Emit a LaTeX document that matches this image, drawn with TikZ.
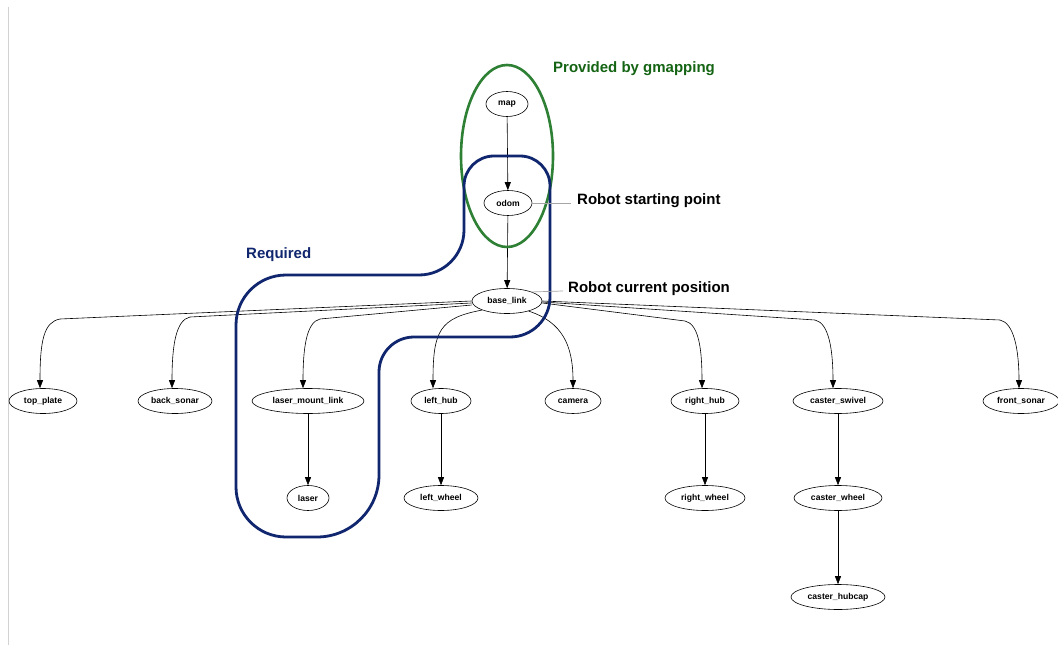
\documentclass[tikz,border=0pt]{standalone}
\usepackage{fontspec}
\setmainfont{Liberation Sans}
\usetikzlibrary{arrows.meta,shapes.geometric}
\definecolor{gmgreen}{RGB}{46,128,52}
\definecolor{gmtext}{RGB}{20,100,20}
\definecolor{reqblue}{RGB}{16,38,110}
\tikzset{
  frame/.style={ellipse,draw=black,line width=0.6pt,minimum height=25pt,inner sep=0pt,
    font=\fontsize{8.6}{10}\selectfont\bfseries},
  edge/.style={draw=black,line width=0.6pt,-{Triangle[length=8pt,width=6pt]}},
  note/.style={font=\fontsize{15}{17}\selectfont\bfseries,anchor=west,inner sep=0pt},
  leader/.style={draw=gray!70,line width=0.7pt}
}
\begin{document}
\begin{tikzpicture}[x=1pt,y=-1pt]
\useasboundingbox (0,0) rectangle (1058,650);
\fill[white] (0,0) rectangle (1058,650);
\draw[gray!35,line width=1pt] (8,7) -- (8,645);

% nodes
\node[frame,minimum width=42pt] (map) at (507,104) {map};
\node[frame,minimum width=48pt] (odom) at (508,203) {odom};
\node[frame,minimum width=70pt] (base) at (507,301) {base\_link};
\node[frame,minimum width=68pt] (top) at (43,401) {top\_plate};
\node[frame,minimum width=74pt] (back) at (175,401) {back\_sonar};
\node[frame,minimum width=112pt] (lml) at (308,401) {laser\_mount\_link};
\node[frame,minimum width=60pt] (lhub) at (441,401) {left\_hub};
\node[frame,minimum width=56pt] (cam) at (573,401) {camera};
\node[frame,minimum width=68pt] (rhub) at (705,401) {right\_hub};
\node[frame,minimum width=90pt] (cswiv) at (838,401) {caster\_swivel};
\node[frame,minimum width=76pt] (front) at (1021,401) {front\_sonar};
\node[frame,minimum width=42pt] (laser) at (308,498) {laser};
\node[frame,minimum width=74pt] (lwheel) at (441,498) {left\_wheel};
\node[frame,minimum width=80pt] (rwheel) at (705,498) {right\_wheel};
\node[frame,minimum width=88pt] (cwheel) at (838,498) {caster\_wheel};
\node[frame,minimum width=94pt] (chub) at (838,597) {caster\_hubcap};

% vertical edges
\draw[edge] (map) -- (odom);
\draw[edge] (odom) -- (base);
\draw[edge] (lml) -- (laser);
\draw[edge] (lhub) -- (lwheel);
\draw[edge] (rhub) -- (rwheel);
\draw[edge] (cswiv) -- (cwheel);
\draw[edge] (cwheel) -- (chub);

% fan-out edges from base_link
\draw[edge] (base.west) -- (60,319) .. controls (44,322) and (40,340) .. ([xshift=-3]top.north);
\draw[edge] ([yshift=-2]base.west) -- (190,317) .. controls (176,320) and (172,345) .. ([xshift=-3]back.north);
\draw[edge] ([yshift=-4]base.west) -- (320,319) .. controls (306,322) and (303,350) .. ([xshift=-5]lml.north);
\draw[edge] (base.-160) .. controls (440,318) and (433,330) .. ([xshift=-8]lhub.north);
\draw[edge] (base.-25) .. controls (562,322) and (573,345) .. (cam.north);
\draw[edge] ([yshift=-2]base.east) -- (685,321) .. controls (699,324) and (702,350) .. ([xshift=-3]rhub.north);
\draw[edge] ([yshift=-1]base.east) -- (815,320) .. controls (829,323) and (833,350) .. ([xshift=-5]cswiv.north);
\draw[edge] (base.east) -- (1000,320) .. controls (1014,323) and (1019,350) .. ([xshift=-2]front.north);

% green region
\draw[gmgreen,line width=2.6pt] (507,156) ellipse [x radius=46, y radius=91];

% blue region
\draw[reqblue,line width=2.8pt,line join=round,line cap=round]
  (550,250) [rounded corners=40] -- (550,337)
  [rounded corners=35] -- (379,337) [rounded corners=62] -- (379,537)
  [rounded corners=50] -- (236,537) [rounded corners=50] -- (236,275)
  [rounded corners=45] -- (464,275) [rounded corners=30] -- (464,156)
  [rounded corners=30] -- (550,156) [sharp corners] -- (550,250);

% labels
\node[note,text=gmtext] (prov) at (553,69) {Provided by gmapping};
\node[note] (start) at (577,201) {Robot starting point};
\node[note] (curr) at (568,289) {Robot current position};
\node[note,text=reqblue] (req) at (246,255) {Required};
\draw[leader] (odom.east) -- ([xshift=-6]start.west |- odom.east);
\draw[leader] (base.20) -- ([xshift=-5,yshift=-2]curr.west);
\end{tikzpicture}
\end{document}
